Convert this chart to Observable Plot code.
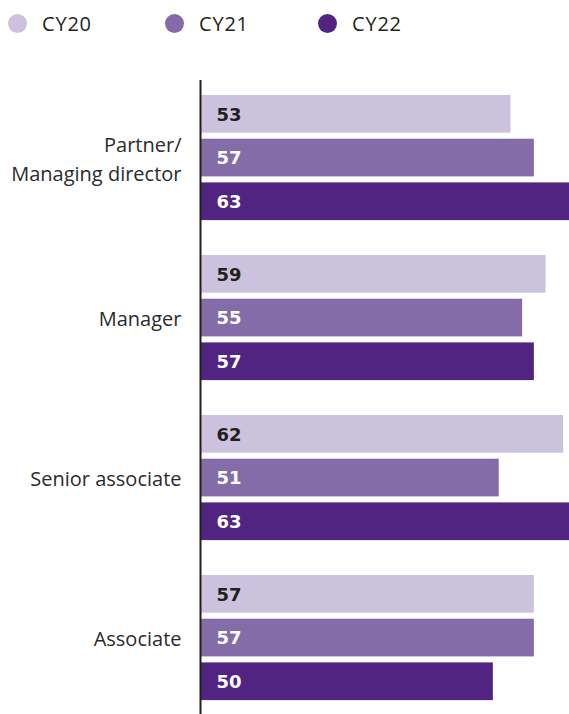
<!DOCTYPE html>
<html>
<head>
<meta charset="utf-8">
<script src="https://cdn.jsdelivr.net/npm/d3@7"></script>
<script src="https://cdn.jsdelivr.net/npm/@observablehq/plot@0.6"></script>
<style>
  html, body { margin: 0; padding: 0; background: #fff; }
  body { width: 569px; height: 714px; overflow: hidden; font-family: "Open Sans", sans-serif; color: #231f20; }
  #legend { position: relative; height: 80px; }
  .item { position: absolute; top: 12px; display: flex; align-items: center; font-size: 20px; height: 22px; letter-spacing: 0.8px; }
  .dot { width: 19px; height: 19px; border-radius: 50%; margin-right: 15px; }
  #chart svg { display: block; }
</style>
</head>
<body>
<div id="legend"></div>
<div id="chart"></div>
<script>
const categories = ["Partner/\nManaging director", "Manager", "Senior associate", "Associate"];
const seriesNames = ["CY20", "CY21", "CY22"];
const cy20 = [53, 59, 62, 57];
const cy21 = [57, 55, 51, 57];
const cy22 = [63, 57, 63, 50];
const seriesColors = ["#cbc3de", "#836ca8", "#512482"];
const labelColors = ["#231f20", "#ffffff", "#ffffff"];

const seriesValues = [cy20, cy21, cy22];

// legend
const legendX = [8, 165, 318];
const legend = document.getElementById("legend");
seriesNames.forEach((s, i) => {
  const it = document.createElement("div");
  it.className = "item";
  it.style.left = legendX[i] + "px";
  it.innerHTML = `<span class="dot" style="background:${seriesColors[i]}"></span><span>${s}</span>`;
  legend.appendChild(it);
});

const W = 569, H = 634;
const bandW = 125, barH = 37.7, barStep = 43.7;

const marks = [];
seriesValues.forEach((vals, i) => {
  const rows = categories.map((c, j) => ({category: c, value: vals[j]}));
  const top = i * barStep;
  const bottom = bandW - top - barH;
  marks.push(Plot.barX(rows, {x: "value", y: "category", fill: seriesColors[i], insetTop: top, insetBottom: bottom}));
  marks.push(Plot.text(rows, {
    x: 0, y: "category", text: d => String(d.value), dx: 16,
    dy: top + barH / 2 - bandW / 2 + 0.5, textAnchor: "start",
    fill: labelColors[i], fontWeight: "bold", fontSize: 18,
    fontFamily: "'DejaVu Sans', sans-serif"
  }));
});
marks.push(Plot.text(categories, {
  y: d => d, text: d => d, frameAnchor: "left", dx: -19, dy: -1, textAnchor: "end",
  fontSize: 20, lineHeight: 1.45, fill: "#2b2b2b"
}));
marks.push(Plot.ruleX([0], {stroke: "#231f20", strokeWidth: 2, insetTop: -15, insetBottom: -14}));

const plot = Plot.plot({
  width: W, height: H,
  marginLeft: 200, marginRight: 0, marginTop: 15, marginBottom: 14,
  style: {fontFamily: "'Open Sans', sans-serif", background: "transparent", overflow: "visible"},
  x: {domain: [0, 63], axis: null},
  y: {domain: categories, axis: null, paddingInner: 35 / 160, paddingOuter: 0},
  marks
});
document.getElementById("chart").appendChild(plot);
</script>
</body>
</html>
